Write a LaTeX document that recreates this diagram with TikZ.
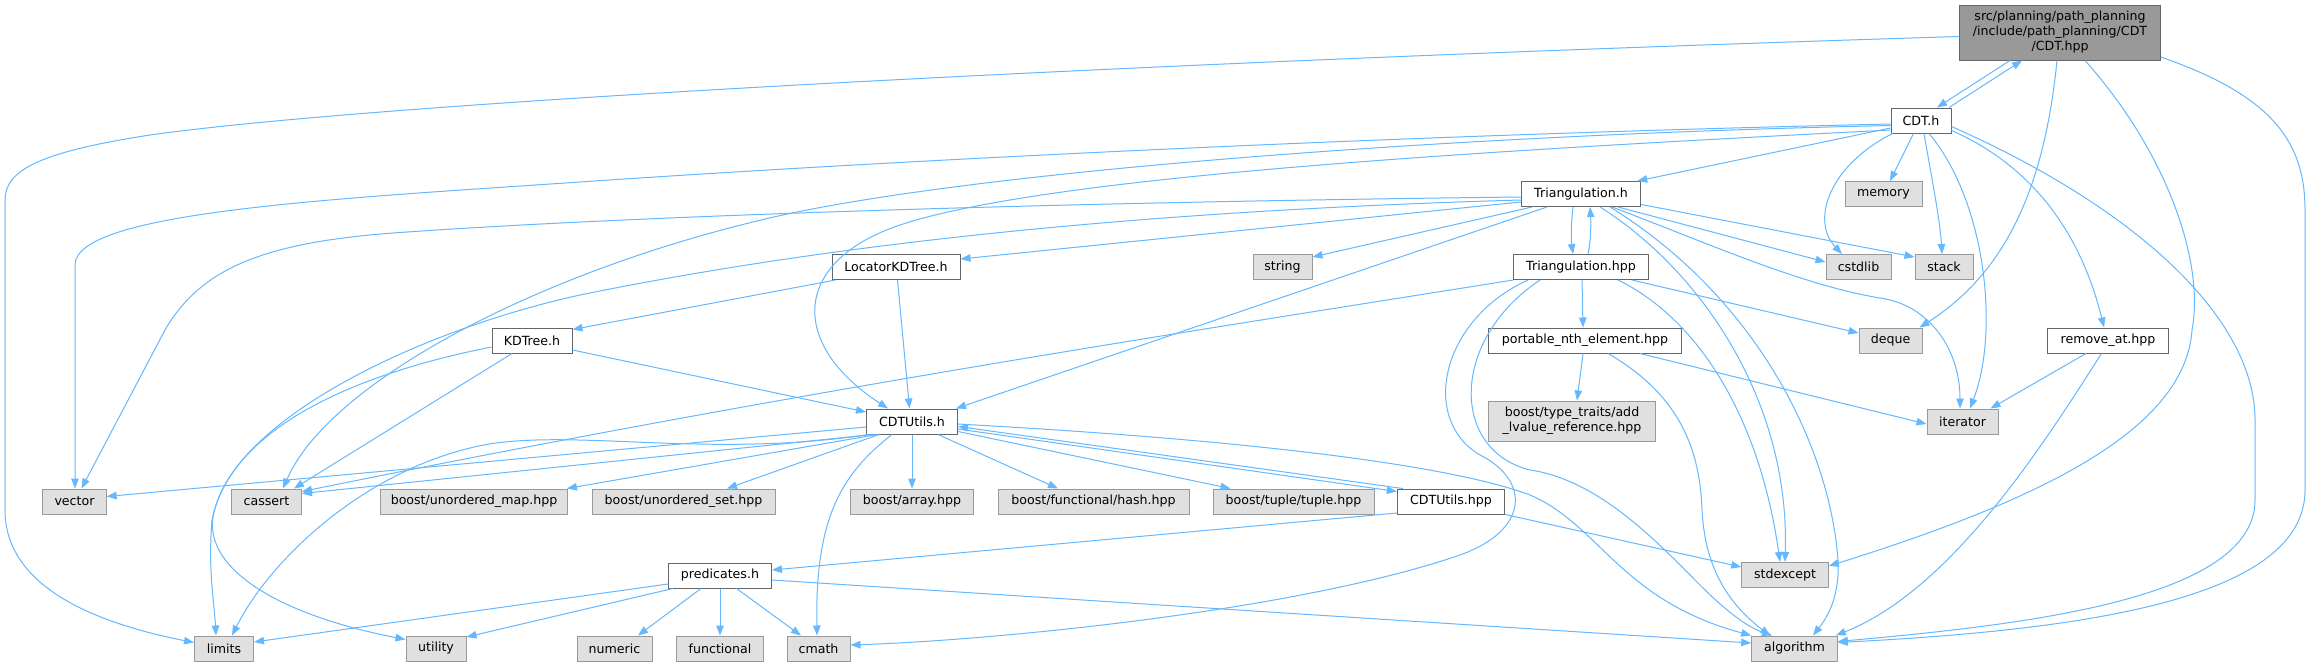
\documentclass[tikz,border=0pt]{standalone}
\usepackage{fontspec}
\setmainfont{DejaVu Sans}
\usetikzlibrary{arrows.meta}
\definecolor{edgeblue}{HTML}{63B8FF}
\definecolor{intborder}{HTML}{666666}
\definecolor{extborder}{HTML}{999999}
\definecolor{extfill}{HTML}{E0E0E0}
\definecolor{rootfill}{HTML}{999999}
\newcommand{\nodefont}{\fontsize{12.6}{15}\selectfont}
\begin{document}
\begin{tikzpicture}[x=1pt,y=-1pt,
  inc/.style={draw=intborder, fill=white, line width=1pt, inner sep=0pt, minimum height=25pt, font=\nodefont, text=black},
  ext/.style={inc, draw=extborder, fill=extfill},
  rootbox/.style={inc, fill=rootfill, minimum height=55pt, align=center},
  edge/.style={draw=edgeblue, line width=1pt, -{Triangle[length=10pt,width=7.5pt]}}]
\fill[white] (0,0) rectangle (2312,667);
\useasboundingbox (0,0) rectangle (2312,667);
% nodes
\node[rootbox, minimum width=200.5pt] (root) at (2060,32.5) {src/planning/path\_planning\\/include/path\_planning/CDT\\/CDT.hpp};
\node[inc, minimum width=60pt] (cdth) at (1921,120.5) {CDT.h};
\node[ext, minimum width=77pt] (memory) at (1883.5,194) {memory};
\node[ext, minimum width=65pt] (cstdlib) at (1858.5,267) {cstdlib};
\node[ext, minimum width=58pt] (stack) at (1944,267) {stack};
\node[ext, minimum width=63pt] (deque) at (1890.5,340.5) {deque};
\node[inc, minimum width=120.5pt] (removeat) at (2108,340.5) {remove\_at.hpp};
\node[ext, minimum width=71pt] (iterator) at (1962.5,421.5) {iterator};
\node[ext, minimum width=86.6pt] (stdexcept) at (1785,575) {stdexcept};
\node[ext, minimum width=85.6pt] (algorithm) at (1794.5,648.5) {algorithm};
\node[inc, minimum width=119.5pt] (trih) at (1581,194) {Triangulation.h};
\node[ext, minimum width=59pt] (string) at (1282.5,267) {string};
\node[inc, minimum width=134.6pt] (trihpp) at (1581,267) {Triangulation.hpp};
\node[inc, minimum width=193.5pt] (nth) at (1585,340.5) {portable\_nth\_element.hpp};
\node[ext, minimum width=166.5pt, minimum height=40pt, align=center] (addlref) at (1572,421) {boost/type\_traits/add\\\_lvalue\_reference.hpp};
\node[inc, minimum width=107.4pt] (cdtuhpp) at (1451,501.5) {CDTUtils.hpp};
\node[ext, minimum width=161pt] (tuple) at (1293.5,501.5) {boost/tuple/tuple.hpp};
\node[ext, minimum width=191pt] (hash) at (1093.5,501.5) {boost/functional/hash.hpp};
\node[ext, minimum width=123pt] (array) at (912,501.5) {boost/array.hpp};
\node[ext, minimum width=183pt] (uset) at (683.5,501.5) {boost/unordered\_set.hpp};
\node[ext, minimum width=187.7pt] (umap) at (474,501.5) {boost/unordered\_map.hpp};
\node[ext, minimum width=70pt] (cassert) at (266.5,501.5) {cassert};
\node[ext, minimum width=63.3pt] (vector) at (74.5,501.5) {vector};
\node[ext, minimum width=59pt] (limits) at (224,648.5) {limits};
\node[ext, minimum width=60pt] (utility) at (436,648.5) {utility};
\node[ext, minimum width=75pt] (numeric) at (614.5,648.5) {numeric};
\node[ext, minimum width=86.5pt] (functional) at (720,648.5) {functional};
\node[ext, minimum width=63pt] (cmath) at (818.5,648.5) {cmath};
\node[inc, minimum width=103pt] (pred) at (720,575.5) {predicates.h};
\node[inc, minimum width=91pt] (cdtuh) at (912,421.5) {CDTUtils.h};
\node[inc, minimum width=80pt] (kdtree) at (532,340.5) {KDTree.h};
\node[inc, minimum width=128pt] (lockd) at (896,267) {LocatorKDTree.h};
% root edges
\draw[edge] ([xshift=-50pt]root.south) -- ([xshift=16pt]cdth.north);
\draw[edge] ([xshift=28pt]cdth.north) -- ([xshift=-38pt]root.south);
\draw[edge] ([yshift=-4pt]root.west) .. controls (1200,60) and (400,100) .. (150,135) .. controls (40,152) and (5,170) .. (5,200) -- (5,510) .. controls (5,580) and (80,620) .. ([yshift=6pt]limits.west);
\draw[edge] ([xshift=-3pt]root.south) .. controls (2045,180) and (2010,270) .. ([xshift=-3pt]deque.north east);
\draw[edge] ([xshift=25pt]root.south) .. controls (2165,150) and (2205,260) .. (2192,330) .. controls (2185,430) and (2040,500) .. ([yshift=9pt]stdexcept.east);
\draw[edge] ([yshift=-24.5pt]root.east) .. controls (2270,95) and (2305,140) .. (2305,210) -- (2305,490) .. controls (2305,600) and (2080,630) .. ([yshift=6pt]algorithm.east);
% CDT.h edges
\draw[edge] ([xshift=-7.5pt]cdth.south) -- ([xshift=6.5pt]memory.north);
\draw[edge] ([xshift=2pt]cdth.south west) .. controls (1830,165) and (1810,220) .. ([xshift=-16.5pt]cstdlib.north);
\draw[edge] ([xshift=3pt]cdth.south) .. controls (1932,180) and (1940,220) .. ([xshift=-2pt]stack.north);
\draw[edge] ([xshift=8pt]cdth.south) .. controls (1985,200) and (2000,330) .. ([xshift=7.5pt]iterator.north);
\draw[edge] ([yshift=-10pt]cdth.east) .. controls (2030,165) and (2080,230) .. ([xshift=-4pt]removeat.north);
\draw[edge] ([yshift=-6pt]cdth.east) .. controls (2140,210) and (2255,320) .. (2255,420) -- (2255,500) .. controls (2255,600) and (2020,625) .. ([yshift=7pt]algorithm.east);
\draw[edge] ([yshift=-7.5pt]cdth.west) -- ([xshift=-4pt]trih.north east);
\draw[edge] ([yshift=-3.5pt]cdth.west) .. controls (1400,135) and (900,160) .. (580,182) .. controls (330,199) and (75,212) .. (75,265) -- ([xshift=0.5pt]vector.north);
\draw[edge] ([yshift=-5pt]cdth.west) .. controls (1450,135) and (1000,170) .. (792,213) .. controls (550,265) and (330,380) .. ([xshift=16.5pt]cassert.north);
\draw[edge] ([yshift=-9.5pt]cdth.west) .. controls (1500,150) and (1050,175) .. (900,225) .. controls (790,262) and (790,345) .. ([xshift=-24pt]cdtuh.north);
% LocatorKDTree / KDTree
\draw[edge] ([xshift=1.5pt]lockd.south) -- ([xshift=-2.5pt]cdtuh.north);
\draw[edge] ([xshift=4pt]lockd.south west) -- ([yshift=-2pt]kdtree.north east);
\draw[edge] ([yshift=-9.5pt]kdtree.east) -- ([yshift=9.5pt]cdtuh.west);
\draw[edge] ([xshift=-20pt]kdtree.south) -- ([xshift=27.5pt]cassert.north);
\draw[edge] ([yshift=-6.5pt]kdtree.west) .. controls (350,375) and (230,430) .. (212,520) .. controls (208,570) and (214,600) .. ([xshift=-8pt]limits.north);
% Triangulation.h edges
\draw[edge] ([yshift=-8pt]trih.west) -- ([yshift=8pt]lockd.east);
\draw[edge] ([xshift=-34pt]trih.south) -- ([xshift=-2pt]cdtuh.north east);
\draw[edge] ([xshift=-49pt]trih.south) -- ([yshift=10pt]string.east);
\draw[edge] ([yshift=-3pt]trih.west) .. controls (1000,203) and (600,218) .. (393,233) .. controls (260,243) and (200,270) .. (165,330) -- ([xshift=7pt]vector.north);
\draw[edge] ([yshift=-6pt]trih.west) .. controls (1100,212) and (800,250) .. (580,295) .. controls (420,330) and (230,420) .. (213,517) .. controls (205,570) and (280,615) .. ([yshift=-4pt]utility.north west);
\draw[edge] ([xshift=-8pt]trih.south) .. controls (1571,222) and (1571,240) .. ([xshift=-8pt]trihpp.north);
\draw[edge] ([yshift=-10.5pt]trih.east) -- ([yshift=10pt]stack.west);
\draw[edge] ([xshift=37pt]trih.south) -- ([yshift=5pt]cstdlib.west);
\draw[edge] ([xshift=31pt]trih.south) .. controls (1700,240) and (1800,285) .. (1880,298) .. controls (1930,305) and (1960,350) .. ([xshift=-2.5pt]iterator.north);
\draw[edge] ([xshift=19pt]trih.south) .. controls (1700,270) and (1790,400) .. (stdexcept.north);
\draw[edge] ([xshift=29pt]trih.south) .. controls (1760,300) and (1830,450) .. (1838,560) .. controls (1840,600) and (1825,620) .. ([xshift=18.5pt]algorithm.north);
% Triangulation.hpp edges
\draw[edge] ([xshift=7pt]trihpp.north) .. controls (1591,240) and (1591,222) .. ([xshift=9pt]trih.south);
\draw[edge] (trihpp.south west) .. controls (1200,330) and (800,390) .. ([yshift=10pt]cassert.east);
\draw[edge] ([xshift=-53pt]trihpp.south) .. controls (1440,320) and (1420,420) .. (1480,455) .. controls (1530,480) and (1530,530) .. (1460,555) .. controls (1300,610) and (1000,640) .. ([yshift=3.5pt]cmath.east);
\draw[edge] ([xshift=-41pt]trihpp.south) .. controls (1450,340) and (1450,450) .. (1530,470) .. controls (1600,480) and (1660,545) .. (1700,585) .. controls (1730,615) and (1750,628) .. ([xshift=-22.5pt]algorithm.north);
\draw[edge] ([xshift=1pt]trihpp.south) -- ([xshift=-2pt]nth.north);
\draw[edge] ([xshift=51pt]trihpp.south) -- ([yshift=7.5pt]deque.west);
\draw[edge] ([xshift=37pt]trihpp.south) .. controls (1700,320) and (1760,420) .. ([xshift=-5pt]stdexcept.north);
% portable_nth_element / remove_at
\draw[edge] ([xshift=-2pt]nth.south) -- ([xshift=5pt]addlref.north);
\draw[edge] ([xshift=55pt]nth.south) -- ([yshift=-2.5pt]iterator.west);
\draw[edge] ([xshift=23pt]nth.south) .. controls (1680,395) and (1700,450) .. (1702,510) .. controls (1705,570) and (1730,605) .. ([xshift=-24.5pt]algorithm.north);
\draw[edge] ([xshift=-22pt]removeat.south) -- ([xshift=-8pt]iterator.north east);
\draw[edge] ([xshift=-6.5pt]removeat.south) .. controls (2040,450) and (1950,590) .. ([xshift=-2pt]algorithm.north east);
% CDTUtils.h edges
\draw[edge] ([yshift=-5.5pt]cdtuh.west) -- ([yshift=5pt]vector.east);
\draw[edge] ([xshift=7pt]cdtuh.south west) -- ([yshift=8pt]cassert.east);
\draw[edge] ([xshift=11pt]cdtuh.south west) -- ([xshift=-1.5pt]umap.north east);
\draw[edge] ([xshift=13pt]cdtuh.south west) -- ([xshift=43.5pt]uset.north);
\draw[edge] ([xshift=3pt]cdtuh.south west) .. controls (700,460) and (560,425) .. (470,448) .. controls (360,475) and (270,560) .. ([xshift=8pt]limits.north);
\draw[edge] ([xshift=-20pt]cdtuh.south) .. controls (840,475) and (815,520) .. ([xshift=-1.5pt]cmath.north);
\draw[edge] (cdtuh.south) -- (array.north);
\draw[edge] ([xshift=26pt]cdtuh.south) -- ([xshift=-35.5pt]hash.north);
\draw[edge] ([yshift=-10pt]cdtuh.east) -- ([xshift=-63pt]tuple.north);
\draw[edge] ([yshift=-7.5pt]cdtuh.east) -- ([yshift=10pt]cdtuhpp.west);
\draw[edge] ([yshift=-2.5pt]cdtuh.east) .. controls (1250,440) and (1450,465) .. (1530,495) .. controls (1600,525) and (1620,600) .. (algorithm.north west);
% CDTUtils.hpp edges
\draw[edge] ([xshift=6pt]cdtuhpp.north west) -- ([yshift=-5pt]cdtuh.east);
\draw[edge] ([yshift=-11.5pt]cdtuhpp.west) -- ([yshift=5.5pt]pred.east);
\draw[edge] (cdtuhpp.south east) -- ([yshift=8pt]stdexcept.west);
% predicates.h edges
\draw[edge] ([yshift=-4.5pt]pred.east) -- ([yshift=5.5pt]algorithm.west);
\draw[edge] ([yshift=-8.5pt]pred.west) -- ([yshift=6.5pt]limits.east);
\draw[edge] ([xshift=5pt]pred.south west) -- ([yshift=11.5pt]utility.east);
\draw[edge] ([xshift=-19pt]pred.south) -- ([xshift=23.5pt]numeric.north);
\draw[edge] (pred.south) -- (functional.north);
\draw[edge] ([xshift=16.5pt]pred.south) -- ([xshift=-17.5pt]cmath.north);
\end{tikzpicture}
\end{document}
